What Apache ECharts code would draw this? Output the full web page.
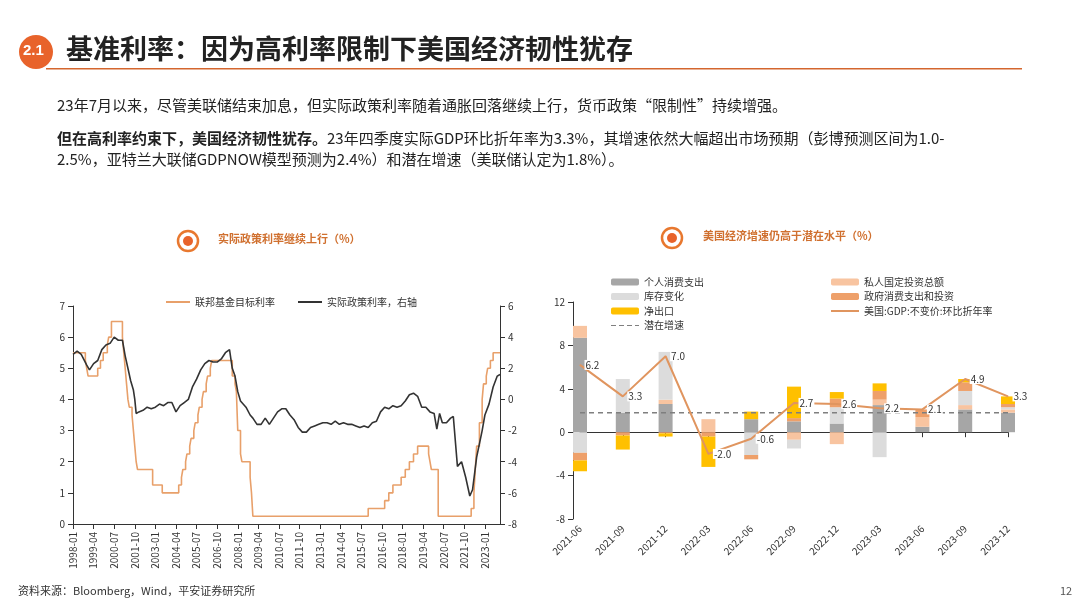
<!DOCTYPE html>
<html><head><meta charset="utf-8">
<script src="https://cdn.jsdelivr.net/npm/echarts@6/dist/echarts.min.js"></script>
<style>html,body{margin:0;padding:0;background:#fff}#c{width:1080px;height:608px}</style>
</head><body><div id="c"></div>
<script>
// Left chart: month index since 1998-01
const fedFunds = [[0,5.5],[9,5.25],[10,5.0],[11,4.75],[18,5.0],[20,5.25],[22,5.5],[25,5.75],[26,6.0],[28,6.5],[36,6.0],[37,5.5],[38,5.0],[39,4.5],[40,4.0],[41,3.75],[43,3.5],[44,3.0],[45,2.5],[46,2.0],[47,1.75],[58,1.25],[65,1.0],[77,1.25],[79,1.5],[80,1.75],[82,2.0],[83,2.25],[85,2.5],[86,2.75],[88,3.0],[89,3.25],[91,3.5],[92,3.75],[94,4.0],[95,4.25],[97,4.5],[98,4.75],[100,5.0],[101,5.25],[116,4.75],[118,4.5],[119,4.25],[120,3.0],[122,2.25],[123,2.0],[129,1.5],[130,1.0],[131,0.25],[215,0.5],[227,0.75],[230,1.0],[233,1.25],[239,1.5],[242,1.75],[245,2.0],[248,2.25],[251,2.5],[259,2.25],[260,2.0],[261,1.75],[266,0.25],[290,0.5],[292,1.0],[293,1.75],[294,2.5],[296,3.25],[298,4.0],[299,4.5],[301,4.75],[302,5.0],[304,5.25],[306,5.5],[311,5.5]];
const realRate = [[0,2.9],[3,3.1],[6,2.9],[10,2.2],[12,1.9],[15,2.3],[18,2.5],[21,3.2],[24,3.5],[27,3.6],[30,4.0],[33,3.8],[36,3.8],[38,2.8],[40,2.0],[42,1.2],[44,0.6],[45,0.0],[46,-0.9],[48,-0.8],[51,-0.7],[54,-0.5],[57,-0.6],[60,-0.5],[63,-0.3],[66,-0.4],[69,-0.2],[72,-0.2],[75,-0.8],[78,-0.4],[81,-0.2],[84,0.0],[87,0.8],[90,1.3],[93,1.9],[96,2.3],[99,2.5],[102,2.4],[105,2.4],[108,2.6],[111,3.0],[114,3.2],[116,2.0],[118,1.5],[120,0.5],[122,-0.1],[126,-0.5],[129,-1.0],[131,-1.2],[134,-1.6],[137,-1.6],[140,-1.2],[143,-1.6],[146,-1.2],[149,-0.8],[152,-0.6],[155,-0.6],[158,-1.0],[161,-1.3],[164,-1.8],[167,-2.1],[170,-2.1],[173,-1.8],[176,-1.7],[179,-1.6],[182,-1.5],[185,-1.5],[188,-1.6],[191,-1.4],[194,-1.6],[197,-1.5],[200,-1.6],[203,-1.6],[206,-1.7],[209,-1.8],[212,-1.7],[215,-1.8],[218,-1.5],[221,-1.4],[224,-0.8],[227,-0.5],[230,-0.6],[233,-0.4],[236,-0.5],[239,-0.4],[242,-0.1],[245,0.3],[248,0.4],[251,0.2],[254,-0.5],[257,-0.5],[260,-0.8],[263,-0.9],[265,-1.9],[267,-0.9],[269,-1.5],[272,-1.5],[275,-1.2],[277,-1.1],[280,-4.3],[283,-4.0],[286,-5.0],[289,-6.2],[291,-5.8],[294,-3.7],[298,-2.0],[300,-1.0],[303,-0.3],[306,0.8],[309,1.5],[311,1.6]];

// Right chart
const quarters = ['2021-06','2021-09','2021-12','2022-03','2022-06','2022-09','2022-12','2023-03','2023-06','2023-09','2023-12'];
const pce      = [8.7, 1.8, 2.6, 0.0, 1.2, 1.0, 0.8, 2.5, 0.5, 2.1, 1.8];
const fixedInv = [1.1, 0.0, 0.4, 1.2, 0.0,-0.7,-1.1, 0.5, 0.9, 0.4, 0.3];
const invChg   = [-1.9,3.1, 4.4, 0.0,-2.1,-0.8, 1.5,-2.3, 0.0, 1.3, 0.2];
const gov      = [-0.7,-0.3,-0.1,-0.4,-0.4,0.3, 0.8, 0.8, 0.7, 0.8, 0.3];
const netExp   = [-1.0,-1.3,-0.3,-2.8,0.7, 2.9, 0.6, 0.7, 0.0, 0.3, 0.7];
const gdp      = [6.2, 3.3, 7.0,-2.0,-0.6, 2.7, 2.6, 2.2, 2.1, 4.9, 3.3];
const potential= [1.8,1.8,1.8,1.8,1.8,1.8,1.8,1.8,1.8,1.8,1.8];

const F = '"Noto Sans CJK SC", "Noto Sans", sans-serif';
const ORANGE = '#e8632b';
const chart = echarts.init(document.getElementById('c'));
const fmtMonth = v => { const y = 1998 + Math.floor(v/12), m = v%12 + 1; return y + '-' + (m<10?'0':'') + m; };
const axisTxt = {fontSize:10, color:'#333', fontFamily:F};
const lineAx = {show:true, lineStyle:{color:'#333'}};

function ring(cx, cy){
  return [
    {type:'circle', shape:{cx, cy, r:10}, style:{fill:'#fff', stroke:'#e8782f', lineWidth:2.5}},
    {type:'circle', shape:{cx, cy, r:5}, style:{fill:'#e8632b'}}
  ];
}

chart.setOption({
  animation:false,
  textStyle:{fontFamily:F},
  graphic:[
    {type:'circle', shape:{cx:36, cy:52, r:17}, style:{fill:ORANGE}},
    {type:'text', left:23, top:43, style:{text:'2.1', fill:'#fff', font:'bold 15px Arial'}},
    {type:'text', left:66, top:35, style:{text:'基准利率：因为高利率限制下美国经济韧性犹存', fill:'#222', font:'bold 27px '+F}},
    {type:'rect', shape:{x:46, y:68, width:976, height:1.5}, style:{fill:'#d4662e'}},
    {type:'text', left:57, top:98, style:{text:'23年7月以来，尽管美联储结束加息，但实际政策利率随着通胀回落继续上行，货币政策“限制性”持续增强。', fill:'#222', font:'15px '+F}},
    {type:'text', left:57, top:131, style:{rich:{b:{fontWeight:'bold', fontSize:15, fill:'#222', fontFamily:F}, n:{fontSize:15, fill:'#222', fontFamily:F}},
      text:'{b|但在高利率约束下，美国经济韧性犹存。}{n|23年四季度实际GDP环比折年率为3.3%，其增速依然大幅超出市场预期（彭博预测区间为1.0-}'}},
    {type:'text', left:57, top:152, style:{text:'2.5%，亚特兰大联储GDPNOW模型预测为2.4%）和潜在增速（美联储认定为1.8%）。', fill:'#222', font:'15px '+F}},
    ...ring(188, 241),
    {type:'text', left:218, top:233, style:{text:'实际政策利率继续上行（%）', fill:'#d0702f', font:'bold 11px '+F}},
    ...ring(672, 238),
    {type:'text', left:703, top:230, style:{text:'美国经济增速仍高于潜在水平（%）', fill:'#d0702f', font:'bold 11px '+F}},
    {type:'text', left:18, top:585, style:{text:'资料来源：Bloomberg，Wind，平安证券研究所', fill:'#333', font:'11px '+F}},
    {type:'text', left:1060, top:585, style:{text:'12', fill:'#555', font:'11px '+F}}
  ],
  legend:[
    {left:160, top:292, itemWidth:24, itemHeight:2, itemGap:22, textStyle:{fontSize:10,color:'#333'}, data:['联邦基金目标利率','实际政策利率，右轴']},
    {left:606, top:272, orient:'vertical', itemWidth:28, itemHeight:7, itemGap:4.5, textStyle:{fontSize:10,color:'#333'},
     data:['个人消费支出','库存变化','净出口',{name:'潜在增速', icon:'path://M0,0H5V1H0ZM8,0H13V1H8ZM16,0H21V1H16ZM24,0H28V1H24Z'}]},
    {left:826, top:272, orient:'vertical', itemWidth:28, itemHeight:7, itemGap:4.5, textStyle:{fontSize:10,color:'#333'},
     data:['私人国定投资总额','政府消费支出和投资',{name:'美国:GDP:不变价:环比折年率', icon:'path://M0,0H28V2H0Z'}]}
  ],
  grid:[
    {left:73, right:580, top:306, bottom:84},
    {left:580, right:72, top:302, bottom:89}
  ],
  xAxis:[
    {type:'value', gridIndex:0, min:0, max:311, interval:15, splitLine:{show:false}, axisLine:lineAx,
     axisTick:{show:true, lineStyle:{color:'#333'}}, axisLabel:{...axisTxt, rotate:90, formatter:fmtMonth, showMaxLabel:false}},
    {type:'category', gridIndex:1, data:quarters, boundaryGap:false, axisLine:{show:true, onZero:true, lineStyle:{color:'#333'}},
     axisTick:{show:true, lineStyle:{color:'#333'}}, axisLabel:{...axisTxt, rotate:45, margin:8}}
  ],
  yAxis:[
    {type:'value', gridIndex:0, min:0, max:7, interval:1, splitLine:{show:false}, axisLine:lineAx, axisTick:{show:true}, axisLabel:axisTxt},
    {type:'value', gridIndex:0, min:-8, max:6, interval:2, position:'right', splitLine:{show:false}, axisLine:lineAx, axisTick:{show:true}, axisLabel:axisTxt},
    {type:'value', gridIndex:1, min:-8, max:12, interval:4, offset:7, splitLine:{show:false}, axisLine:lineAx, axisTick:{show:true}, axisLabel:axisTxt}
  ],
  series:[
    {name:'联邦基金目标利率', type:'line', xAxisIndex:0, yAxisIndex:0, step:'end', data:fedFunds, symbol:'none', lineStyle:{color:'#e8a06a', width:1.6}, itemStyle:{color:'#e8a06a'}},
    {name:'实际政策利率，右轴', type:'line', xAxisIndex:0, yAxisIndex:1, data:realRate, symbol:'none', lineStyle:{color:'#333', width:1.6}, itemStyle:{color:'#333'}},
    {name:'个人消费支出', type:'bar', xAxisIndex:1, yAxisIndex:2, stack:'g', barWidth:14, data:pce, itemStyle:{color:'#a6a6a6'}},
    {name:'私人国定投资总额', type:'bar', xAxisIndex:1, yAxisIndex:2, stack:'g', data:fixedInv, itemStyle:{color:'#f8c4a0'}},
    {name:'库存变化', type:'bar', xAxisIndex:1, yAxisIndex:2, stack:'g', data:invChg, itemStyle:{color:'#dcdcdc'}},
    {name:'政府消费支出和投资', type:'bar', xAxisIndex:1, yAxisIndex:2, stack:'g', data:gov, itemStyle:{color:'#eea06a'}},
    {name:'净出口', type:'bar', xAxisIndex:1, yAxisIndex:2, stack:'g', data:netExp, itemStyle:{color:'#ffc000'}},
    {name:'潜在增速', type:'line', xAxisIndex:1, yAxisIndex:2, data:potential, symbol:'none', lineStyle:{color:'#7f7f7f', type:[5,4], width:1.5}, itemStyle:{color:'#7f7f7f'}},
    {name:'美国:GDP:不变价:环比折年率', type:'line', xAxisIndex:1, yAxisIndex:2, data:gdp, symbol:'circle', symbolSize:1, showSymbol:true, lineStyle:{color:'#e0955f', width:2}, itemStyle:{color:'#e0955f'},
     label:{show:true, position:'right', distance:4, fontSize:10, color:'#333', formatter:p=>p.value.toFixed(1), backgroundColor:'#fff', padding:[0,1]}}
  ]
});
</script></body></html>
